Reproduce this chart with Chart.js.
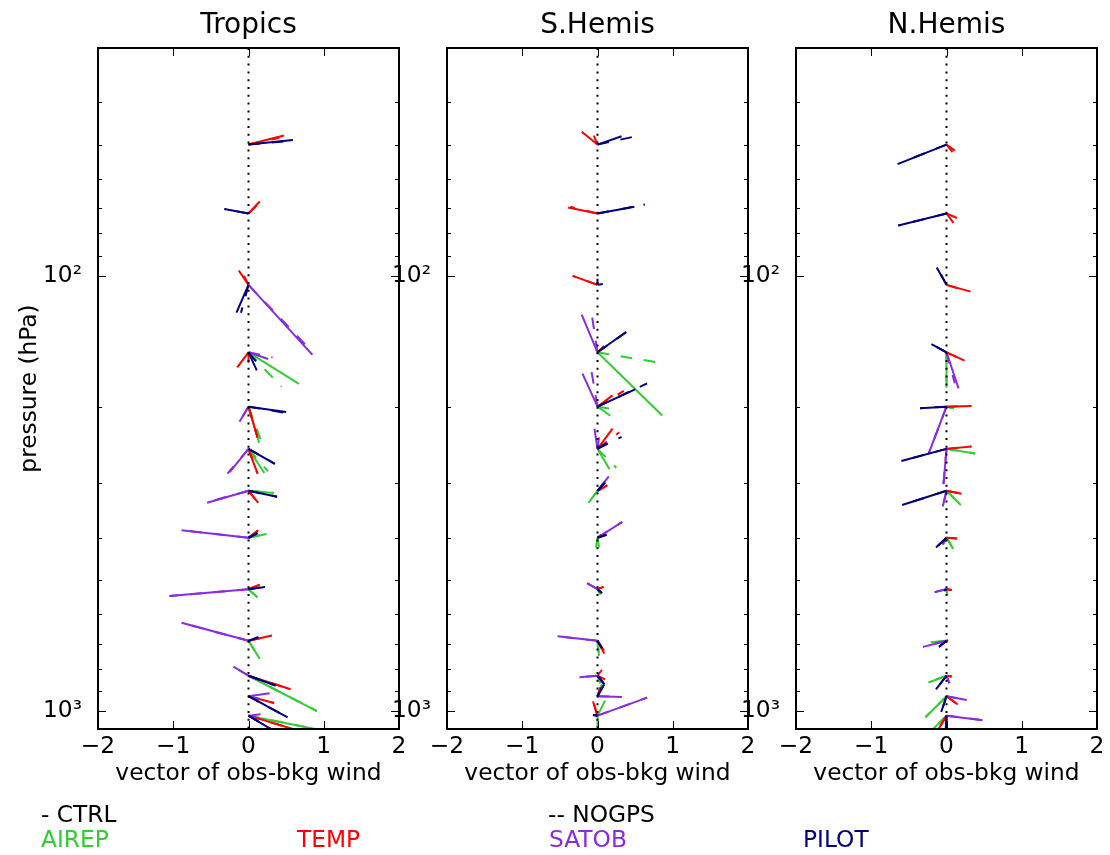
<!DOCTYPE html>
<html>
<head>
<meta charset="utf-8">
<script src="https://cdn.jsdelivr.net/npm/chart.js@4.4.0/dist/chart.umd.min.js"></script>
<style>
  body { margin: 0; background: #fff; font-family: 'DejaVu Sans', sans-serif; }
  #wrap { position: relative; width: 1110px; height: 855px; overflow: hidden; background: #fff; }
  canvas { position: absolute; left: 0; top: 0; }
  .txt { position: absolute; white-space: nowrap; line-height: 1; font-size: 23.3px; }
  .ttl { position: absolute; white-space: nowrap; line-height: 1; font-size: 28px; top: 9.6px; transform: translateX(-50%); }
</style>
</head>
<body>
<div id="wrap">
  <canvas id="c0" width="1110" height="855"></canvas>
  <canvas id="c1" width="1110" height="855"></canvas>
  <canvas id="c2" width="1110" height="855"></canvas>
  <div class="ttl" style="left:248.5px">Tropics</div>
  <div class="ttl" style="left:597.5px">S.Hemis</div>
  <div class="ttl" style="left:946.5px">N.Hemis</div>
  <div class="txt" style="left:41px;top:802px;color:#000">- CTRL</div>
  <div class="txt" style="left:548px;top:802px;color:#000">-- NOGPS</div>
  <div class="txt" style="left:41px;top:827px;color:#32cd32">AIREP</div>
  <div class="txt" style="left:297px;top:827px;color:#ff0000">TEMP</div>
  <div class="txt" style="left:549px;top:827px;color:#8a2be2">SATOB</div>
  <div class="txt" style="left:803px;top:827px;color:#000080">PILOT</div>
</div>
<script>
// pressure levels (hPa) where the vectors start
const levels = [50, 72, 105, 150, 200, 250, 312, 400, 525, 690, 830, 925, 1025];

// ticks
const xTicks = [-2, -1, 0, 1, 2];
const yMajorTicks = [100, 1000];
const yMinorTicks = [40, 50, 60, 70, 80, 90, 200, 300, 400, 500, 600, 700, 800, 900];

const obsTypes = ['AIREP', 'TEMP', 'SATOB', 'PILOT'];
const obsColors = ['#32cd32', '#ff0000', '#8a2be2', '#000080'];

// [u, v] of obs-bkg wind per level, null = no data
// Tropics
const tropAirepCtrl  = [null, null, null, [0.67,-0.42], [0.14,-0.48], [0.21,-0.32], [0.34,-0.03], [0.24,0.05], [0.12,-0.11], [0.15,-0.24], [0.91,-0.47], null, [1.00,-0.20]];
const tropAirepNogps = [null, null, null, [0.44,-0.46], [0.16,-0.43], [0.26,-0.30], [0.34,-0.03], [0.24,0.05], [0.12,-0.11], [0.15,-0.24], [0.91,-0.47], null, [1.00,-0.20]];
const tropTempCtrl   = [[0.47,0.12], [0.15,0.16], [-0.13,0.19], [-0.15,-0.20], [0.12,-0.41], [0.12,-0.33], [0.13,-0.16], [0.13,0.10], [0.15,0.06], [0.31,0.07], [0.56,-0.18], [0.34,-0.09], [0.70,-0.21]];
const tropTempNogps  = [[0.41,0.09], [0.12,0.12], [-0.06,0.12], [0.00,-0.14], [0.12,-0.41], [0.12,-0.33], [0.13,-0.16], [0.13,0.10], [0.15,0.06], [0.31,0.07], [0.56,-0.18], [0.34,-0.09], [0.70,-0.21]];
const tropSatobCtrl  = [null, null, [0.85,-0.93], [0.26,-0.09], [-0.12,-0.20], [-0.25,-0.31], [-0.55,-0.16], [-0.89,0.10], [-1.05,-0.09], [-0.89,0.24], [-0.20,0.12], [0.28,0.04], [0.16,0.02]];
const tropSatobNogps = [null, null, [0.78,-0.82], [0.32,-0.07], [-0.12,-0.20], [-0.28,-0.33], [-0.50,-0.14], [-0.89,0.10], [-1.05,-0.09], [-0.89,0.24], [-0.20,0.12], [0.16,-0.04], [0.10,-0.02]];
const tropPilotCtrl  = [[0.59,0.06], [-0.32,0.06], [-0.16,-0.37], [0.11,-0.24], [0.50,-0.07], [0.35,-0.20], [0.38,-0.08], [0.12,0.06], [0.22,0.03], [0.13,0.05], [0.36,-0.13], [0.52,-0.28], [0.40,-0.24]];
const tropPilotNogps = [[0.56,0.05], [-0.32,0.06], [-0.10,-0.37], [0.10,-0.12], [0.48,-0.08], [0.35,-0.20], [0.38,-0.08], [0.12,0.06], [0.22,0.03], [0.13,0.05], [0.36,-0.13], [0.52,-0.28], [0.40,-0.24]];

// S.Hemis
const shAirepCtrl  = [null, null, null, [0.86,-0.84], [0.17,-0.12], [0.16,-0.27], [-0.12,-0.16], [-0.02,-0.13], [0.04,-0.07], [0.02,-0.20], [0.04,-0.10], [0.06,0.16], [0.10,0.20]];
const shAirepNogps = [null, null, null, [0.77,-0.13], [0.31,-0.05], [0.25,-0.25], [-0.12,-0.16], [0.02,-0.13], [0.04,-0.07], [0.02,-0.20], [0.04,-0.10], [0.06,0.16], [0.00,-0.20]];
const shTempCtrl   = [[-0.21,0.17], [-0.39,0.08], [-0.33,0.12], [0.09,0.08], [0.20,0.15], [0.20,0.27], [0.13,0.07], [0.05,0.04], [0.08,0.03], [0.09,-0.17], [0.06,0.08], [0.04,0.12], [-0.06,0.19]];
const shTempNogps  = [[-0.05,0.12], [-0.36,0.09], [-0.33,0.12], [0.09,0.08], [0.35,0.21], [0.29,0.22], [0.13,0.07], [0.05,0.04], [0.08,0.03], [0.10,-0.15], [0.10,-0.05], [0.04,0.12], [-0.06,0.19]];
const shSatobCtrl  = [null, null, null, [-0.21,0.50], [-0.20,0.44], [-0.04,0.27], [0.15,0.19], [0.33,0.21], [-0.14,0.08], [-0.53,0.06], [-0.24,-0.02], [0.32,-0.01], [0.66,0.24]];
const shSatobNogps = [null, null, null, [-0.07,0.46], [-0.08,0.47], [0.04,0.31], [0.15,0.19], [0.33,0.21], [-0.14,0.08], [-0.53,0.06], [-0.24,-0.02], [0.32,-0.01], [0.66,0.24]];
const shPilotCtrl  = [[0.32,0.11], [0.49,0.09], [0.07,0.01], [0.38,0.27], [0.50,0.23], [0.12,0.08], [0.10,0.11], [0.12,0.04], [0.06,-0.05], [0.06,-0.10], [0.09,-0.11], [0.09,0.16], [-0.06,0.01]];
const shPilotNogps = [[0.46,0.10], [0.63,0.12], [0.00,0.08], [0.40,0.28], [0.66,0.31], [0.32,0.16], [0.10,0.11], [0.12,0.04], [0.06,-0.05], [0.06,-0.10], [0.09,-0.11], [0.09,0.16], [-0.06,0.01]];

// N.Hemis
const nhAirepCtrl  = [null, null, null, [0.00,-0.47], [0.10,-0.02], [0.38,-0.06], [0.19,-0.19], [0.09,-0.15], [0.01,-0.08], [-0.21,-0.02], [-0.24,-0.09], [-0.28,-0.28], [-0.20,-0.20]];
const nhAirepNogps = [null, null, null, [0.00,-0.40], [0.10,-0.02], [0.38,-0.06], [0.19,-0.19], [0.09,-0.15], [0.01,-0.08], [-0.21,-0.02], [-0.24,-0.09], [-0.28,-0.28], [-0.20,-0.20]];
const nhTempCtrl   = [[0.11,-0.08], [0.14,-0.06], [0.32,-0.09], [0.24,-0.11], [0.33,0.01], [0.33,0.03], [0.20,-0.04], [0.14,-0.01], [0.07,-0.01], [0.02,0.01], [0.07,-0.01], [0.15,-0.11], [-0.12,-0.20]];
const nhTempNogps  = [[0.08,-0.10], [0.11,-0.15], [0.26,-0.08], [0.24,-0.11], [0.33,0.01], [0.33,0.03], [0.20,-0.04], [0.14,-0.01], [0.07,-0.01], [0.02,0.01], [0.07,-0.01], [0.15,-0.11], [-0.12,-0.20]];
const nhSatobCtrl  = [null, null, null, [0.16,-0.48], [-0.24,-0.63], [-0.04,-0.47], [-0.05,-0.21], [-0.05,-0.09], [-0.16,-0.04], [-0.31,-0.08], [0.04,-0.10], [0.27,-0.05], [0.48,-0.06]];
const nhSatobNogps = [null, null, null, [0.11,-0.41], [-0.24,-0.63], [-0.04,-0.47], [-0.05,-0.21], [-0.05,-0.09], [-0.16,-0.04], [-0.31,-0.08], [0.04,-0.10], [0.27,-0.05], [0.48,-0.06]];
const nhPilotCtrl  = [[-0.65,-0.26], [-0.64,-0.16], [-0.13,0.23], [-0.20,0.11], [-0.35,-0.02], [-0.60,-0.16], [-0.59,-0.19], [-0.14,-0.13], [-0.03,-0.02], [-0.10,-0.08], [-0.14,-0.18], [-0.07,-0.21], [-0.01,-0.20]];
const nhPilotNogps = [[-0.58,-0.23], [-0.64,-0.16], [-0.08,0.15], [-0.20,0.11], [-0.35,-0.02], [-0.60,-0.16], [-0.59,-0.19], [-0.14,-0.13], [-0.03,-0.02], [-0.10,-0.08], [-0.14,-0.18], [-0.07,-0.21], [-0.01,-0.20]];

const FONT = "'DejaVu Sans', sans-serif";
const V_SCALE = 0.1729;   // decades of pressure per wind unit, keeps the vector angle

Chart.defaults.font.family = FONT;
Chart.defaults.font.size = 23.3;
Chart.defaults.color = '#000';

// one segment from (0, level) to (u, level shifted by v), broken by a null
function segments(vecs) {
    const pts = [];
    vecs.forEach((uv, i) => {
        if (!uv) return;
        const p0 = levels[i];
        pts.push({ x: 0, y: p0 });
        pts.push({ x: uv[0], y: p0 * Math.pow(10, -uv[1] * V_SCALE) });
        pts.push({ x: 0, y: null });
    });
    return pts;
}

function panelDatasets(ctrl, nogps) {
    const ds = [{
        data: [{ x: 0, y: 30 }, { x: 0, y: 1100 }],
        borderColor: '#000', borderWidth: 2, borderDash: [2, 5.8]
    }];
    // first dataset is drawn on top, so PILOT goes first
    for (let k = obsTypes.length - 1; k >= 0; k--) {
        ds.push({ label: obsTypes[k] + ' CTRL', data: segments(ctrl[k]), borderColor: obsColors[k], borderWidth: 2 });
        ds.push({ label: obsTypes[k] + ' NOGPS', data: segments(nogps[k]), borderColor: obsColors[k], borderWidth: 2, borderDash: [11.7, 11.7] });
    }
    ds.forEach(d => {
        d.showLine = true;
        d.pointRadius = 0;
        d.spanGaps = false;
        d.borderCapStyle = 'butt';
    });
    return ds;
}

// inward tick marks on all four sides plus the frame
const frameTicks = {
    id: 'frameTicks',
    afterDatasetsDraw(chart) {
        const { ctx, chartArea: a, scales: { x, y } } = chart;
        ctx.save();
        ctx.strokeStyle = '#000';
        ctx.lineWidth = 1;
        const seg = (x1, y1, x2, y2) => {
            ctx.beginPath(); ctx.moveTo(x1, y1); ctx.lineTo(x2, y2); ctx.stroke();
        };
        xTicks.forEach(v => {
            const px = Math.round(x.getPixelForValue(v)) + 0.5;
            seg(px, a.bottom, px, a.bottom - 8);
            seg(px, a.top, px, a.top + 8);
        });
        yMajorTicks.forEach(v => {
            const py = Math.round(y.getPixelForValue(v)) + 0.5;
            seg(a.left, py, a.left + 8, py);
            seg(a.right, py, a.right - 8, py);
        });
        yMinorTicks.forEach(v => {
            const py = Math.round(y.getPixelForValue(v)) + 0.5;
            seg(a.left, py, a.left + 4, py);
            seg(a.right, py, a.right - 4, py);
        });
        ctx.lineWidth = 2;
        ctx.strokeRect(a.left, a.top, a.width, a.height);
        ctx.restore();
    }
};

function makePanel(id, ctrl, nogps, left, right, yWidth, showYTitle) {
    const ctx = document.getElementById(id).getContext('2d');
    return new Chart(ctx, {
        type: 'scatter',
        data: { datasets: panelDatasets(ctrl, nogps) },
        options: {
            responsive: false,
            animation: false,
            devicePixelRatio: 1,
            layout: { padding: { left: left - yWidth, right: 1110 - right, top: 48, bottom: 60 } },
            plugins: { legend: { display: false }, tooltip: { enabled: false } },
            events: [],
            scales: {
                x: {
                    type: 'linear', min: -2, max: 2,
                    afterBuildTicks: s => { s.ticks = xTicks.map(v => ({ value: v })); },
                    afterFit: s => { s.height = 66; },
                    grid: { display: false, drawTicks: false },
                    border: { display: false },
                    ticks: {
                        padding: 4, autoSkip: false, maxRotation: 0,
                        callback: v => (v < 0 ? '\u2212' + Math.abs(v) : String(v))
                    },
                    title: { display: true, text: 'vector of obs-bkg wind', padding: { top: 0, bottom: 7 } }
                },
                y: {
                    type: 'logarithmic', min: 30, max: 1100, reverse: true,
                    afterBuildTicks: s => {
                        s.ticks = yMinorTicks.concat(yMajorTicks).sort((a, b) => a - b).map(v => ({ value: v }));
                    },
                    afterFit: s => { s.width = yWidth; },
                    grid: { display: false, drawTicks: false },
                    border: { display: false },
                    ticks: {
                        padding: 16, autoSkip: false,
                        callback: v => (v === 100 ? '10\u00b2' : v === 1000 ? '10\u00b3' : '')
                    },
                    title: { display: showYTitle, text: 'pressure (hPa)', padding: { top: 16, bottom: 0 } }
                }
            }
        },
        plugins: [frameTicks]
    });
}

makePanel('c0',
    [tropAirepCtrl, tropTempCtrl, tropSatobCtrl, tropPilotCtrl],
    [tropAirepNogps, tropTempNogps, tropSatobNogps, tropPilotNogps],
    98, 399, 98, true);
makePanel('c1',
    [shAirepCtrl, shTempCtrl, shSatobCtrl, shPilotCtrl],
    [shAirepNogps, shTempNogps, shSatobNogps, shPilotNogps],
    447, 748, 60, false);
makePanel('c2',
    [nhAirepCtrl, nhTempCtrl, nhSatobCtrl, nhPilotCtrl],
    [nhAirepNogps, nhTempNogps, nhSatobNogps, nhPilotNogps],
    796, 1097, 60, false);
</script>
</body>
</html>
